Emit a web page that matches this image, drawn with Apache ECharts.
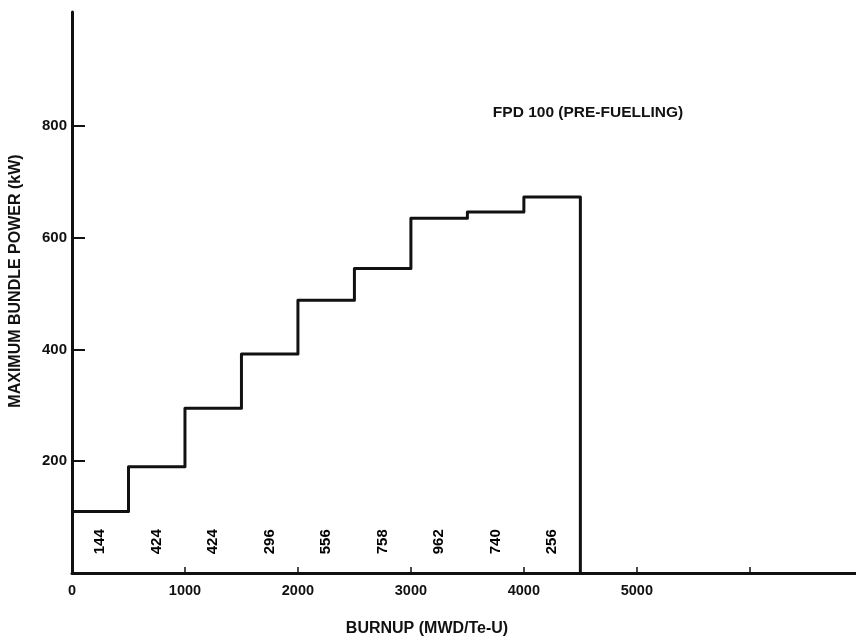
<!DOCTYPE html>
<html>
<head>
<meta charset="utf-8">
<title>Maximum bundle power vs burnup</title>
<script src="https://cdn.jsdelivr.net/npm/echarts@6/dist/echarts.min.js"></script>
<style>
  html, body { margin: 0; padding: 0; background: #fff; }
  #chart { width: 856px; height: 640px; }
</style>
</head>
<body>
<div id="chart"></div>
<script>
/* bin edges (MWD/Te-U), max bundle power in each bin (kW), counts written in each bin */
var binEdges = [0, 500, 1000, 1500, 2000, 2500, 3000, 3500, 4000, 4500];
var maxPower = [110, 190, 295, 392, 488, 545, 635, 646, 673];
var binCounts = ['144', '424', '424', '296', '556', '758', '962', '740', '256'];
var xTickValues = [1000, 2000, 3000, 4000, 5000, 6000];
var xLabelValues = [0, 1000, 2000, 3000, 4000, 5000];
var yTickValues = [200, 400, 600, 800];

var font = 'Liberation Sans, Arial, sans-serif';

// outline of the histogram: across each bin, then down to zero at the last edge
var stepData = [];
for (var i = 0; i < maxPower.length; i++) {
    stepData.push([binEdges[i], maxPower[i]]);
    stepData.push([binEdges[i + 1], maxPower[i]]);
}
stepData.push([binEdges[binEdges.length - 1], 0]);

var countData = [];
for (var j = 0; j < binCounts.length; j++) {
    countData.push({ value: [(binEdges[j] + binEdges[j + 1]) / 2, 56], name: binCounts[j] });
}

var myChart = echarts.init(document.getElementById('chart'));
myChart.setOption({
    animation: false,
    backgroundColor: '#fff',
    grid: { left: 72, right: 0, top: 12, bottom: 67, containLabel: false },
    xAxis: {
        type: 'value',
        min: 0,
        max: 6940,
        axisLine: { lineStyle: { color: '#111', width: 3 } },
        axisTick: {
            inside: true, length: 6,
            lineStyle: { color: '#111', width: 1.5 },
            customValues: xTickValues
        },
        axisLabel: {
            color: '#111', fontFamily: font, fontSize: 14.5, fontWeight: 'bold', margin: 10,
            customValues: xLabelValues,
            formatter: function (v) { return String(v); }
        },
        splitLine: { show: false }
    },
    yAxis: {
        type: 'value',
        min: 0,
        max: 1004,
        axisLine: { show: true, lineStyle: { color: '#111', width: 3 } },
        axisTick: {
            show: true, inside: true, length: 13,
            lineStyle: { color: '#111', width: 2 },
            customValues: yTickValues
        },
        axisLabel: {
            color: '#111', fontFamily: font, fontSize: 15, fontWeight: 'bold', margin: 5,
            customValues: yTickValues
        },
        splitLine: { show: false }
    },
    graphic: [
        {
            type: 'text', x: 427, y: 629,
            style: {
                text: 'BURNUP (MWD/Te-U)', fill: '#111', font: 'bold 16px ' + font,
                align: 'center', verticalAlign: 'middle'
            }
        },
        {
            type: 'text', x: 16, y: 281, rotation: Math.PI / 2,
            style: {
                text: 'MAXIMUM BUNDLE POWER (kW)', fill: '#111', font: 'bold 16px ' + font,
                align: 'center', verticalAlign: 'middle'
            }
        },
        {
            type: 'text', x: 588, y: 113,
            style: {
                text: 'FPD 100 (PRE-FUELLING)', fill: '#111', font: 'bold 15.5px ' + font,
                align: 'center', verticalAlign: 'middle'
            }
        }
    ],
    series: [
        {
            type: 'line',
            data: stepData,
            symbol: 'none',
            lineStyle: { color: '#111', width: 3, join: 'round' },
            silent: true
        },
        {
            type: 'scatter',
            data: countData,
            symbolSize: 0,
            label: {
                show: true,
                formatter: '{b}',
                rotate: 90,
                position: 'inside',
                color: '#000',
                opacity: 1,
                fontFamily: font,
                fontSize: 15,
                fontWeight: 'bold'
            },
            silent: true
        }
    ]
});
</script>
</body>
</html>
